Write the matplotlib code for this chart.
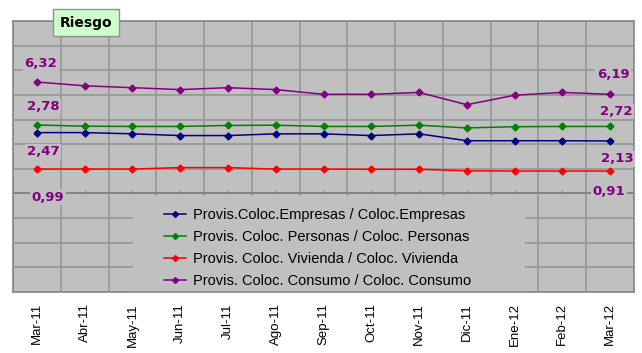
import matplotlib
matplotlib.use("Agg")
import matplotlib.pyplot as plt
from matplotlib.lines import Line2D
from matplotlib.patches import Rectangle
import numpy as np

# Monthly provision / loan ratios (%)
months = ["Mar-11", "Abr-11", "May-11", "Jun-11", "Jul-11", "Ago-11", "Sep-11",
          "Oct-11", "Nov-11", "Dic-11", "Ene-12", "Feb-12", "Mar-12"]
empresas = [2.47, 2.47, 2.42, 2.35, 2.35, 2.42, 2.42, 2.35, 2.42, 2.14, 2.14, 2.14, 2.13]
personas = [2.78, 2.73, 2.72, 2.72, 2.76, 2.77, 2.72, 2.72, 2.77, 2.66, 2.71, 2.72, 2.72]
vivienda = [0.99, 0.99, 0.99, 1.05, 1.05, 0.99, 0.99, 0.98, 0.98, 0.92, 0.91, 0.91, 0.91]
consumo = [6.32, 6.28, 6.26, 6.24, 6.26, 6.24, 6.19, 6.19, 6.21, 6.08, 6.18, 6.21, 6.19]

labels = ["Provis.Coloc.Empresas / Coloc.Empresas",
          "Provis. Coloc. Personas / Coloc. Personas",
          "Provis. Coloc. Vivienda / Coloc. Vivienda",
          "Provis. Coloc. Consumo / Coloc. Consumo"]
colors = ["#000080", "#008000", "#ff0000", "#800080"]

BG = "#c0c0c0"
GRID = "#999999"
LBL = "#800080"

fig = plt.figure(figsize=(6.42, 3.53), dpi=100)
ax = fig.add_axes([13 / 642, 1 - 292 / 353, 621 / 642, 271 / 353])
ax.set_facecolor(BG)
x = np.arange(len(months))

ax.set_xlim(-0.5, len(months) - 0.5)
ax.set_ylim(-4, 7)
ax.set_axisbelow(True)
ax.set_yticks(np.arange(-4, 8, 1))
ax.set_xticks(np.arange(-0.5, len(months), 1.0))
ax.set_xticks(x, minor=True)
ax.set_xticklabels([])
ax.set_xticklabels(months, minor=True, rotation=90, va="top",
                   family="Liberation Sans", fontsize=9.5)
ax.grid(True, which="major", color=GRID, lw=1.3)
ax.tick_params(which="both", length=0, labelleft=False)
ax.tick_params(axis="x", which="minor", pad=8)
for s in ax.spines.values():
    s.set_color("#888888")
    s.set_linewidth(1.2)

# category axis crossing at zero with small tick marks
ax.axhline(0, color="#808080", lw=1.2, zorder=0.8)
ax.vlines(x, 0, 0.12, color="#808080", lw=0.8, zorder=0.8)

# legend panel sits over the grid
ax.add_patch(Rectangle((0.193, 0.0), 0.631, 0.354, transform=ax.transAxes,
                       facecolor=BG, edgecolor="none", zorder=1))

# consumo has its own (hidden) scale
ax2 = ax.twinx()
ax2.set_ylim(4.10, 6.965)
ax2.set_yticks([])
for s in ax2.spines.values():
    s.set_visible(False)

series = [(ax, empresas), (ax, personas), (ax, vivienda), (ax2, consumo)]
handles = []
for (a, vals), c, lab in zip(series, colors, labels):
    a.plot(x, vals, color=c, lw=1.1, marker="D", ms=3.5, zorder=3)
    handles.append(Line2D([], [], color=c, lw=1.1, marker="D", ms=3, label=lab))

# first / last value labels (offsets in pixels, positive = up)
offsets = [((6, -19), (7, -18)), ((6, 18), (6, 15)),
           ((11, -28), (-1, -20)), ((4, 19), (3, 20))]
for (a, vals), (off0, off1) in zip(series, offsets):
    for i, off in ((0, off0), (-1, off1)):
        a.annotate(f"{vals[i]:.2f}".replace(".", ","), (x[i], vals[i]),
                   xytext=off, textcoords="offset pixels", ha="center",
                   va="center", color=LBL, fontsize=9.5, fontweight="bold",
                   family="DejaVu Sans", zorder=4,
                   bbox=dict(boxstyle="square,pad=0.1", fc=BG, ec="none"))

leg = ax2.legend(handles=handles, loc="upper left",
                 bbox_to_anchor=(144 / 621, 91 / 271), frameon=False,
                 prop={"family": "Liberation Sans", "size": 10.5},
                 handlelength=1.5, handletextpad=0.5, labelspacing=0.55,
                 borderpad=0)

fig.text(86 / 642, 1 - 22.5 / 353, "Riesgo", ha="center", va="center",
         fontsize=10, fontweight="bold", family="DejaVu Sans",
         bbox=dict(boxstyle="square,pad=0.45", fc="#ccffcc", ec="#909090", lw=1))

fig.savefig("out.png", dpi=100, facecolor="white")
